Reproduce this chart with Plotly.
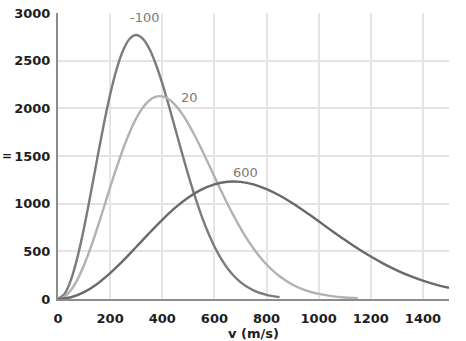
import plotly.graph_objects as go

# Speed grids (m/s): the two narrower curves are sampled more densely
speed_fine = [0, 25, 50, 75, 100, 125, 150, 175, 200, 225, 250, 275, 300, 325,
              350, 375, 400, 425, 450, 475, 500, 525, 550, 575, 600, 625, 650,
              675, 700, 725, 750, 775, 800, 825, 850]
speed_warm = [0, 25, 50, 75, 100, 125, 150, 175, 200, 225, 250, 275, 300, 325,
              350, 375, 400, 425, 450, 475, 500, 525, 550, 575, 600, 625, 650,
              675, 700, 725, 750, 775, 800, 850, 900, 950, 1000, 1050, 1100, 1150]
speed = [0, 50, 100, 150, 200, 250, 300, 350, 400, 450, 500, 550, 600, 650, 700,
         750, 800, 850, 900, 950, 1000, 1050, 1100, 1150, 1200, 1250, 1300, 1350,
         1400, 1450, 1500]

# Distribution values for each temperature (°C)
f_minus100 = [0, 52, 203, 442, 748, 1098, 1466, 1822, 2145, 2412, 2610, 2730,
              2769, 2732, 2627, 2465, 2262, 2030, 1785, 1538, 1300, 1078, 878,
              702, 551, 426, 323, 241, 177, 128, 91, 63, 44, 30, 20]
f_20 = [0, 24, 94, 206, 356, 536, 738, 952, 1170, 1380, 1576, 1749, 1894, 2006,
        2082, 2122, 2125, 2095, 2034, 1947, 1838, 1712, 1575, 1431, 1284, 1139,
        999, 867, 744, 631, 530, 440, 362, 238, 150, 91, 53, 30, 16, 8]
f_600 = [0, 18, 72, 158, 271, 402, 545, 691, 831, 958, 1065, 1147, 1203, 1230,
         1229, 1203, 1153, 1086, 1004, 912, 815, 717, 621, 529, 445, 369, 301,
         242, 192, 151, 117]

curve_names = ["-100", "20", "600"]
curve_speeds = [speed_fine, speed_warm, speed]
curve_values = [f_minus100, f_20, f_600]
curve_colors = ["#7b7b7b", "#b2b2b2", "#6a6a6a"]
label_pos = [(334, 2950), (506, 2115), (721, 1322)]

x_ticks = [0, 200, 400, 600, 800, 1000, 1200, 1400]
y_ticks = [0, 500, 1000, 1500, 2000, 2500, 3000]

fig = go.Figure()
for name, xs, vals, col in zip(curve_names, curve_speeds, curve_values, curve_colors):
    fig.add_trace(go.Scatter(
        x=xs[:len(vals)], y=vals, mode="lines", name=name,
        line=dict(color=col, width=2.4, shape="spline", smoothing=1.0),
        hoverinfo="skip", showlegend=False,
    ))

for name, (lx, ly) in zip(curve_names, label_pos):
    fig.add_annotation(x=lx, y=ly, text=name, showarrow=False,
                       font=dict(family="DejaVu Sans", size=13, color="#7a7a7a"))

fig.add_annotation(xref="paper", yref="paper", x=-0.148, y=0.5, text="=",
                   showarrow=False, xanchor="left",
                   font=dict(family="DejaVu Sans", size=12, color="#222222",
                             weight="bold"))

tick_font = dict(family="DejaVu Sans", size=13, color="#1e1e1e", weight="bold")
hidden_tick = "rgba(0,0,0,0)"

fig.update_layout(
    width=466, height=341,
    margin=dict(l=58, r=17, t=13, b=42),
    paper_bgcolor="white", plot_bgcolor="white",
    xaxis=dict(range=[0, 1500], tickvals=x_ticks, showgrid=True,
               gridcolor="#e4e4e4", gridwidth=1.5, zeroline=False,
               showline=True, linecolor="#8c8c8c", linewidth=2,
               tickfont=tick_font, ticks="outside", ticklen=6,
               tickcolor=hidden_tick, automargin=False,
               title=dict(text="v (m/s)", font=dict(family="DejaVu Sans", size=13,
                                                   color="#1e1e1e", weight="bold"),
                          standoff=4)),
    yaxis=dict(range=[0, 3000], tickvals=y_ticks, showgrid=True,
               gridcolor="#e4e4e4", gridwidth=1.5, zeroline=False,
               showline=True, linecolor="#8c8c8c", linewidth=2,
               tickfont=tick_font, ticks="outside", ticklen=3,
               tickcolor=hidden_tick, automargin=False),
)

fig.write_html("out.html")
